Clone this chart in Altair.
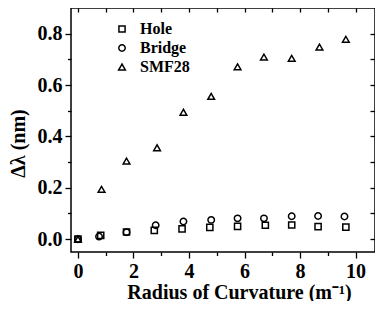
import altair as alt
import pandas as pd

series_names = ["Hole", "Bridge", "SMF28"]

x_hole = [0, 0.82, 1.75, 2.75, 3.75, 4.75, 5.75, 6.75, 7.7, 8.65, 9.65]
y_hole = [0.0, 0.015, 0.028, 0.034, 0.040, 0.046, 0.050, 0.054, 0.055, 0.049, 0.047]

x_bridge = [0, 0.76, 1.75, 2.8, 3.8, 4.8, 5.75, 6.7, 7.7, 8.65, 9.6]
y_bridge = [0.0, 0.010, 0.027, 0.054, 0.069, 0.075, 0.081, 0.081, 0.089, 0.090, 0.088]

x_smf = [0, 0.85, 1.75, 2.85, 3.8, 4.8, 5.75, 6.7, 7.7, 8.7, 9.65]
y_smf = [0.0, 0.194, 0.304, 0.356, 0.494, 0.556, 0.671, 0.709, 0.704, 0.748, 0.778]

x_ticks = list(range(0, 11))
y_ticks = [0.0, 0.1, 0.2, 0.3, 0.4, 0.5, 0.6, 0.7, 0.8]

rows = []
for name, xs, ys in zip(series_names, [x_hole, x_bridge, x_smf], [y_hole, y_bridge, y_smf]):
    for xv, yv in zip(xs, ys):
        rows.append({"series": name, "x": xv, "y": yv})
df = pd.DataFrame(rows)

FONT = "Liberation Serif"

xscale = alt.Scale(domain=[-0.25, 10.7], nice=False, zero=False)
yscale = alt.Scale(domain=[-0.05, 0.9], nice=False, zero=False)

legend = alt.Legend(title=None, orient="none", legendX=43, legendY=13, padding=0,
                    labelFont=FONT, labelFontSize=16, labelFontWeight="bold",
                    labelColor="black", labelOffset=10, rowPadding=3,
                    symbolStrokeColor="black", symbolFillColor="transparent",
                    symbolStrokeWidth=1.5)

points = alt.Chart(df).mark_point(filled=False, strokeWidth=1.5, color="black", opacity=1).encode(
    x=alt.X("x:Q", scale=xscale, axis=alt.Axis(
        orient="bottom", values=x_ticks, title="Radius of Curvature (m⁻¹)",
        labelExpr="datum.value % 2 === 0 ? datum.label : ''",
        tickSize={"condition": {"test": "datum.value % 2 === 0", "value": 6}, "value": 3.5},
        tickColor="black", tickWidth=1.3, domain=False, grid=False,
        labelFont=FONT, labelFontSize=20, labelFontWeight="bold", labelColor="black", labelPadding=3,
        titleFont=FONT, titleFontSize=20, titleFontWeight="bold", titleColor="black",
        titleX=168, titleY=46, titleBaseline="alphabetic")),
    y=alt.Y("y:Q", scale=yscale, axis=alt.Axis(
        orient="left", values=y_ticks, title="Δλ (nm)",
        labelExpr="round(datum.value*10) % 2 === 0 ? format(datum.value, '.1f') : ''",
        tickSize={"condition": {"test": "round(datum.value*10) % 2 === 0", "value": 6}, "value": 3.5},
        tickColor="black", tickWidth=1.3, domain=False, grid=False,
        labelFont=FONT, labelFontSize=20, labelFontWeight="bold", labelColor="black", labelPadding=3,
        titleFont=FONT, titleFontSize=20, titleFontWeight="bold", titleColor="black",
        titleX=-43, titleY=135, titleBaseline="bottom", titleAngle=-90)),
    shape=alt.Shape("series:O", scale=alt.Scale(domain=series_names, range=["square", "circle", "triangle-up"]),
                    legend=legend),
    size=alt.Size("series:O", scale=alt.Scale(domain=series_names, range=[38, 45, 70]), legend=legend),
)

mirror = alt.Chart(df).mark_point(opacity=0).encode(
    x=alt.X("x:Q", scale=xscale, axis=alt.Axis(
        orient="top", values=x_ticks, title=None, labels=False, domain=False, grid=False,
        tickSize=4, offset=-4, tickColor="black", tickWidth=1.3)),
    y=alt.Y("y:Q", scale=yscale, axis=alt.Axis(
        orient="right", values=y_ticks, title=None, labels=False, domain=False, grid=False,
        tickSize=5, offset=-5, tickColor="black", tickWidth=1.3)),
)

chart = alt.layer(points, mirror).resolve_axis(x="independent", y="independent").properties(
    width=304, height=244,
    autosize=alt.AutoSizeParams(type="none"),
    padding={"left": 63, "top": 0, "right": 0, "bottom": 49},
    background="white",
).configure_view(stroke="black", strokeWidth=1.5).configure_axis(labelFont=FONT, titleFont=FONT)

chart.save("out.html", embed_options={"renderer": "svg", "actions": False})
